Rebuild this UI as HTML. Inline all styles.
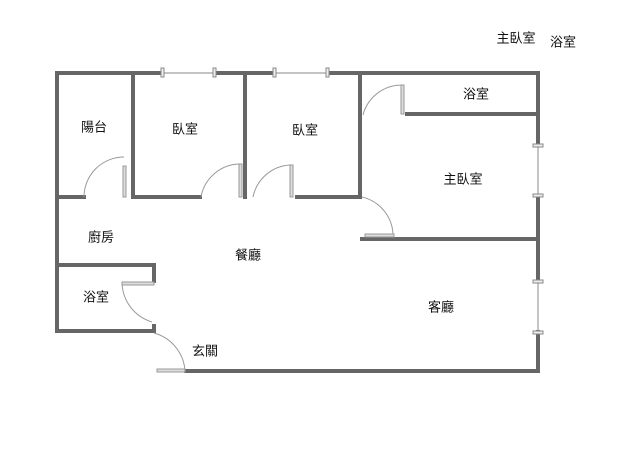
<!DOCTYPE html>
<html><head><meta charset="utf-8"><style>
body{margin:0;background:#fff}
svg text{font-family:"Liberation Sans","Noto Sans CJK TC",sans-serif;font-size:13px;fill:#111;text-anchor:middle;dominant-baseline:middle}
</style></head><body>
<svg width="638" height="460" viewBox="0 0 638 460" xmlns="http://www.w3.org/2000/svg">
<g stroke="#666" stroke-width="4" fill="none" stroke-linecap="square">
<path d="M57 331 V73 H162 M215 73 H274 M328 73 H538 V145 M538 196 V281 M538 332 V371 H186"/>
<path d="M57 265 H154 V281 M57 331 H154 V326"/>
<path d="M133 73 V197 M57 197 H84 M133 197 H200 M245 73 V197 M297 197 H360 V73 M360 197 V197"/>
<path d="M407 114 H538 M362 239 H538"/>
</g>
<g stroke="#888" stroke-width="1" fill="#eee">
<line x1="162" y1="73" x2="215" y2="73"/><line x1="274" y1="73" x2="328" y2="73"/>
<line x1="538" y1="145" x2="538" y2="196"/><line x1="538" y1="281" x2="538" y2="332"/>
<rect x="161" y="68" width="3" height="9"/><rect x="213" y="68" width="3" height="9"/>
<rect x="273" y="68" width="3" height="9"/><rect x="326" y="68" width="3" height="9"/>
<rect x="533" y="144" width="10" height="3"/><rect x="533" y="194" width="10" height="3"/>
<rect x="533" y="280" width="10" height="3"/><rect x="533" y="331" width="10" height="3"/>
</g>
<g stroke="#999" stroke-width="1" fill="none">
<path d="M84 197 A40 40 0 0 1 124 157"/><rect x="123" y="166" width="3" height="31" fill="#ddd"/>
<path d="M201 197 A40 40 0 0 1 240 164"/><rect x="239" y="164" width="3" height="33" fill="#ddd"/>
<path d="M253 197 A40 40 0 0 1 290 165"/><rect x="290" y="165" width="3" height="32" fill="#ddd"/>
<path d="M363 115 A40 40 0 0 1 402 85"/><rect x="401" y="85" width="3" height="29" fill="#ddd"/>
<path d="M362 197 A40 40 0 0 1 393 236"/><rect x="365" y="234" width="29" height="3" fill="#ddd"/>
<path d="M154 283 H122 A42 42 0 0 0 152 322"/><rect x="122" y="282" width="32" height="3" fill="#ddd"/>
<path d="M154 333 A42 42 0 0 1 185 371"/><rect x="157" y="369" width="28" height="3" fill="#ddd"/>
</g>
<text x="94" y="128">陽台</text><text x="185" y="130">臥室</text><text x="305" y="131">臥室</text>
<text x="476" y="95">浴室</text><text x="463" y="180">主臥室</text><text x="101" y="238">廚房</text>
<text x="248" y="256">餐廳</text><text x="96" y="298">浴室</text><text x="441" y="308">客廳</text>
<text x="205" y="352">玄關</text><text x="516" y="39">主臥室</text><text x="563" y="43">浴室</text>
</svg>
</body></html>
